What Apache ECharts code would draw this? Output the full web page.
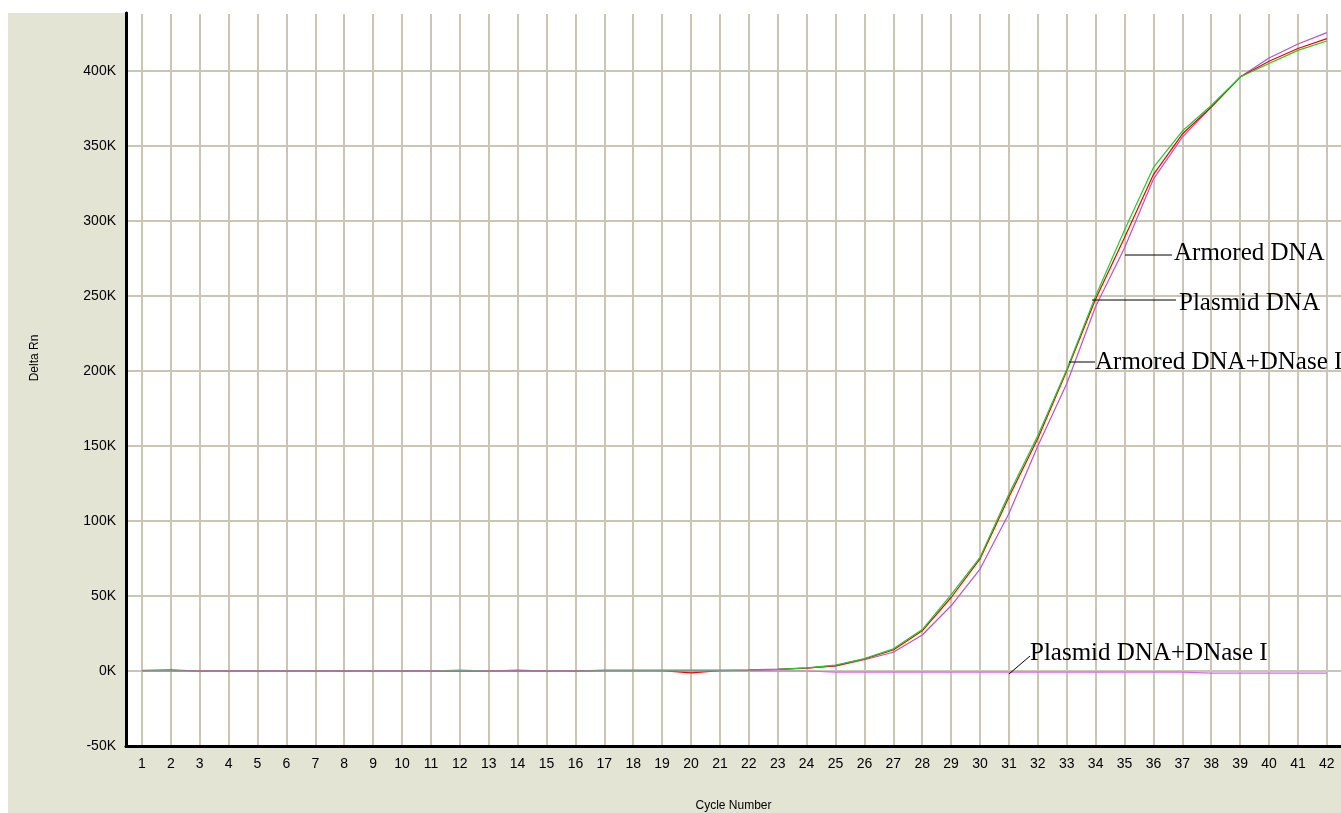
<!DOCTYPE html>
<html>
<head>
<meta charset="utf-8">
<script src="https://cdn.jsdelivr.net/npm/echarts@6/dist/echarts.min.js"></script>
<style>
  html, body { margin: 0; padding: 0; background: #ffffff; overflow: hidden; width: 1341px; height: 813px; }
  #bg { position: absolute; left: 8px; top: 13px; width: 1333px; height: 800px; background: #E4E4D5; }
  #chart { position: absolute; left: 0; top: 0; width: 1341px; height: 813px; }
</style>
</head>
<body>
<div id="bg"></div>
<div id="chart"></div>
<script>
// ---- data ----
const cycles = [1,2,3,4,5,6,7,8,9,10,11,12,13,14,15,16,17,18,19,20,21,22,23,24,25,26,27,28,29,30,31,32,33,34,35,36,37,38,39,40,41,42];

const plasmidDNA = [500,300,0,0,0,0,0,0,0,0,0,600,0,0,0,0,200,300,300,200,300,600,1100,2100,3900,8300,14800,27600,51000,75800,118000,157000,201000,250000,294000,335700,360000,377000,396000,405000,413800,420000];
const armoredDNA = [300,400,0,0,0,0,0,0,0,0,0,0,0,0,0,0,200,300,300,-1200,300,500,1000,1900,3600,8000,14000,26800,49000,74700,116000,155000,200000,248000,289000,331000,358000,376000,396000,406500,415000,421600];
const armoredDNAse = [300,700,0,0,0,0,0,0,0,0,0,0,0,600,0,0,600,600,600,600,600,700,1200,2000,3300,7500,12500,24000,43500,68000,105000,150000,191500,243000,282000,328000,356000,376000,396000,408700,418000,425600];
const plasmidDNAse = [0,0,0,0,0,0,0,0,0,0,0,0,0,0,0,0,0,0,0,0,0,0,0,0,-700,-700,-700,-700,-700,-700,-700,-700,-700,-700,-700,-700,-700,-1400,-1400,-1400,-1400,-1400];

const yTicks = [-50000,0,50000,100000,150000,200000,250000,300000,350000,400000];

const annotations = [
  { text: 'Armored DNA', tx: 1174, ty: 253, line: [[1125,255],[1172,255]] },
  { text: 'Plasmid DNA', tx: 1179, ty: 303, line: [[1092,300],[1176,300]] },
  { text: 'Armored DNA+DNase I', tx: 1095, ty: 362, line: [[1069,362],[1095,362]] },
  { text: 'Plasmid DNA+DNase I', tx: 1030, ty: 653, line: [[1009,674],[1030,656]] }
];

const pairs = arr => cycles.map((c, i) => [c, arr[i]]);

const chart = echarts.init(document.getElementById('chart'), null, { renderer: 'canvas', width: 1341, height: 813 });

const graphic = [
  { type: 'rect', left: 128, top: 11.5, shape: { x: 0, y: 0, width: 1213, height: 2.5 }, style: { fill: '#ffffff' }, z: 50 },
  { type: 'text', x: 35, y: 358, rotation: Math.PI / 2, style: { text: 'Delta Rn', fill: '#000', font: '12px "Liberation Sans"', textAlign: 'center', textVerticalAlign: 'middle' }, z: 50 }
];
annotations.forEach(a => {
  graphic.push({ type: 'line', shape: { x1: a.line[0][0], y1: a.line[0][1], x2: a.line[1][0], y2: a.line[1][1] }, style: { stroke: '#000', lineWidth: 1 }, z: 60 });
  graphic.push({ type: 'text', x: a.tx, y: a.ty, style: { text: a.text, fill: '#000', font: '25px "Liberation Serif"', textAlign: 'left', textVerticalAlign: 'middle' }, z: 60 });
});

const mkSeries = (name, data, color) => ({
  name, type: 'line', data: pairs(data), showSymbol: false, symbol: 'none',
  lineStyle: { color, width: 1.2 }, itemStyle: { color }, animation: false, silent: true
});

chart.setOption({
  animation: false,
  backgroundColor: 'transparent',
  grid: { left: 126, right: 0, top: 13, bottom: 67, show: true, backgroundColor: '#ffffff', borderWidth: 0,
    containLabel: false, outerBoundsMode: 'none' },
  xAxis: {
    type: 'value', min: 0.45, max: 42.49,
    name: 'Cycle Number', nameLocation: 'middle', nameGap: 54,
    nameTextStyle: { color: '#000', fontFamily: 'Liberation Sans', fontSize: 12 },
    axisLine: { show: true, onZero: false, lineStyle: { color: '#000', width: 3 } },
    axisTick: { show: false, customValues: cycles },
    axisLabel: { customValues: cycles, color: '#000', fontFamily: 'Liberation Sans', fontSize: 14, margin: 11 },
    splitLine: { show: true, lineStyle: { color: '#CAC6B4', width: 2 } }
  },
  yAxis: {
    type: 'value', min: -50000, max: 438700, interval: 50000,
    axisLine: { show: true, onZero: false, lineStyle: { color: '#000', width: 3 } },
    axisTick: { show: false },
    axisLabel: { color: '#000', fontFamily: 'Liberation Sans', fontSize: 14, margin: 10, showMaxLabel: false,
      formatter: v => (yTicks.indexOf(v) >= 0 ? (v / 1000) + 'K' : '') },
    splitLine: { show: true, lineStyle: { color: '#CAC6B4', width: 2 } }
  },
  series: [
    mkSeries('Armored DNA+DNase I', armoredDNAse, '#B455C6'),
    mkSeries('Armored DNA', armoredDNA, '#EE0000'),
    mkSeries('Plasmid DNA', plasmidDNA, '#22CC22'),
    mkSeries('Plasmid DNA+DNase I', plasmidDNAse, '#DC64F0')
  ],
  graphic
});
</script>
</body>
</html>
